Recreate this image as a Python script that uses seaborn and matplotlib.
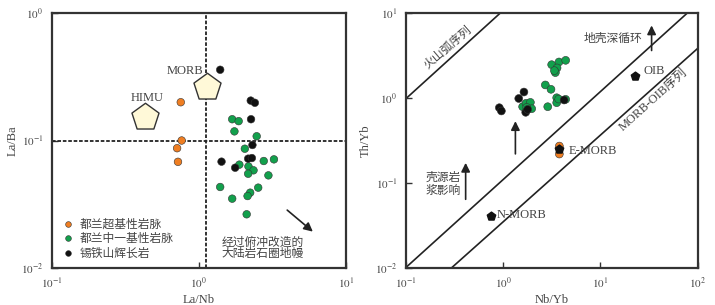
import numpy as np
import pandas as pd
import seaborn as sns
import matplotlib.pyplot as plt
import matplotlib.ticker as mticker

# ---- data ----
groups = ['都兰超基性岩脉', '都兰中一基性岩脉', '锡铁山辉长岩']
colors = ['#ef7e22', '#12a04c', '#111111']

# La/Nb - La/Ba
chao_lanb = [0.755, 0.766, 0.713, 0.723]
chao_laba = [0.200, 0.100, 0.087, 0.068]
zj_lanb = [1.69, 1.87, 1.75, 2.48, 2.06, 2.77, 3.25, 1.89, 2.18, 2.36, 2.17, 2.98,
           1.40, 2.54, 2.24, 2.15, 1.69, 2.12]
zj_laba = [0.147, 0.142, 0.118, 0.108, 0.0862, 0.069, 0.0711, 0.0646, 0.0626, 0.0583,
           0.0548, 0.0532, 0.0431, 0.0426, 0.0389, 0.0366, 0.0349, 0.0263]
xt_lanb = [1.40, 2.26, 2.41, 2.27, 2.32, 2.17, 2.30, 1.43, 1.77]
xt_laba = [0.360, 0.206, 0.198, 0.147, 0.0922, 0.0720, 0.0728, 0.0682, 0.0611]

# Nb/Yb - Th/Yb
chao_nbyb = [3.79, 3.79]
chao_thyb = [0.272, 0.219]
zj_nbyb = [3.16, 3.76, 4.40, 3.59, 3.45, 2.72, 3.11, 3.56, 3.56, 4.40, 2.88, 1.59,
           1.72, 1.91, 1.97, 1.75, 3.73, 3.37]
zj_thyb = [2.48, 2.67, 2.79, 2.27, 2.00, 1.43, 1.27, 1.01, 0.883, 0.967, 0.792, 0.792,
           0.868, 0.891, 0.750, 0.778, 0.975, 2.11]
xt_nbyb = [0.916, 0.962, 1.45, 1.64, 1.71, 4.24, 1.79]
xt_thyb = [0.771, 0.705, 0.99, 1.18, 0.68, 0.95, 0.736]

# end members
em1_names = ['HIMU', 'MORB']
em1_lanb = [0.43, 1.14]
em1_laba = [0.154, 0.265]
em2_names = ['N-MORB', 'E-MORB', 'OIB']
em2_nbyb = [0.76, 3.79, 22.9]
em2_thyb = [0.041, 0.25, 1.84]

# reference lines (Nb/Yb, Th/Yb endpoints)
arc_x, arc_y = [0.1, 0.93], [0.98, 10]
mid_x, mid_y = [0.1, 77.6], [0.01, 10]
morb_x, morb_y = [0.297, 100], [0.01, 3.86]

df1 = pd.DataFrame({
    'x': chao_lanb + zj_lanb + xt_lanb,
    'y': chao_laba + zj_laba + xt_laba,
    'g': [groups[0]] * len(chao_lanb) + [groups[1]] * len(zj_lanb) + [groups[2]] * len(xt_lanb)})
df2 = pd.DataFrame({
    'x': chao_nbyb + zj_nbyb + xt_nbyb,
    'y': chao_thyb + zj_thyb + xt_thyb,
    'g': [groups[0]] * len(chao_nbyb) + [groups[1]] * len(zj_nbyb) + [groups[2]] * len(xt_nbyb)})

sns.set_style('ticks')
plt.rcParams['font.family'] = ['Liberation Serif', 'Noto Sans CJK SC']
plt.rcParams['mathtext.fontset'] = 'stix'
plt.rcParams['axes.unicode_minus'] = False

txt = '#444444'
cn = 8.5
fig = plt.figure(figsize=(7.15, 3.05), dpi=100)
ax1 = fig.add_axes([0.0723, 0.1223, 0.4112, 0.834])
ax2 = fig.add_axes([0.5674, 0.1223, 0.4084, 0.834])
pal = dict(zip(groups, colors))


def fmt(v, pos):
    return r'$10^{%d}$' % int(round(np.log10(v)))


for ax in (ax1, ax2):
    ax.set_xscale('log')
    ax.set_yscale('log')
    for s in ax.spines.values():
        s.set_linewidth(1.6)
        s.set_color('#333333')
    ax.tick_params(which='major', direction='in', length=4, width=1, colors='#333333',
                   labelcolor=txt, labelsize=8, pad=6)
    ax.tick_params(which='minor', length=0)
    ax.xaxis.set_major_formatter(mticker.FuncFormatter(fmt))
    ax.yaxis.set_major_formatter(mticker.FuncFormatter(fmt))

# ---- left panel ----
ax1.set_xlim(0.1, 10)
ax1.set_ylim(0.01, 1)
ax1.set_xticks([0.1, 1, 10])
ax1.set_yticks([0.01, 0.1, 1])
ax1.axvline(1.12, color='#222222', lw=1.3, ls=(0, (2, 1)), zorder=1)
ax1.axhline(0.1, color='#222222', lw=1.3, ls=(0, (2, 1)), zorder=1)
sns.scatterplot(data=df1, x='x', y='y', hue='g', hue_order=groups, palette=pal, s=30,
                edgecolor='#333333', linewidth=0.4, ax=ax1, zorder=3)
ax1.scatter(em1_lanb, em1_laba, marker='p', s=420, facecolor='#fff9d8',
            edgecolor='#333333', linewidth=1, zorder=2)
ax1.text(0.443, 0.217, em1_names[0], ha='center', va='center', fontsize=9, color=txt)
ax1.text(0.807, 0.352, em1_names[1], ha='center', va='center', fontsize=9, color=txt)
ax1.annotate('', xy=(6.18, 0.0186), xytext=(3.87, 0.0293),
             arrowprops=dict(arrowstyle='-|>', color='#222222', lw=1.2, mutation_scale=13))
ax1.text(2.74, 0.0142, '经过俯冲改造的\n大陆岩石圈地幔', ha='center', va='center',
         fontsize=cn, color=txt, linespacing=0.95)
h, l = ax1.get_legend_handles_labels()
ax1.legend(h, l, loc='upper left', bbox_to_anchor=(0.0, 0.21), frameon=False,
           fontsize=cn, handletextpad=0.0, labelspacing=0.2, markerscale=0.75,
           borderaxespad=0, labelcolor=txt)
ax1.set_xlabel('La/Nb', fontsize=9, color=txt, labelpad=2)
ax1.set_ylabel('La/Ba', fontsize=9, color=txt, labelpad=2)

# ---- right panel ----
ax2.set_xlim(0.1, 100)
ax2.set_ylim(0.01, 10)
ax2.set_xticks([0.1, 1, 10, 100])
ax2.set_yticks([0.01, 0.1, 1, 10])
for lx, ly in ((arc_x, arc_y), (mid_x, mid_y), (morb_x, morb_y)):
    ax2.plot(lx, ly, color='#222222', lw=1.2, zorder=1)
sns.scatterplot(data=df2, x='x', y='y', hue='g', hue_order=groups, palette=pal, s=32,
                edgecolor='#333333', linewidth=0.4, ax=ax2, legend=False, zorder=3)
ax2.scatter(em2_nbyb, em2_thyb, marker='p', s=40, color='#111111', zorder=4)
ax2.text(0.861, 0.0418, em2_names[0], ha='left', va='center', fontsize=9, color=txt)
ax2.text(4.69, 0.24, em2_names[1], ha='left', va='center', fontsize=9, color=txt)
ax2.text(27.7, 2.09, em2_names[2], ha='left', va='center', fontsize=9, color=txt)
arrow = dict(arrowstyle='-|>', color='#222222', lw=1.2, mutation_scale=13)
ax2.annotate('', xy=(33.6, 7.76), xytext=(33.6, 3.38), arrowprops=arrow)
ax2.annotate('', xy=(1.34, 0.577), xytext=(1.34, 0.204), arrowprops=arrow)
ax2.annotate('', xy=(0.413, 0.186), xytext=(0.413, 0.0594), arrowprops=arrow)
ax2.text(0.272, 3.95, '火山弧序列', ha='center', va='center', rotation=41,
         fontsize=cn, color=txt)
ax2.text(35, 0.95, 'MORB-OIB序列', ha='center', va='center', rotation=42,
         fontsize=9, color=txt)
ax2.text(13.6, 5.07, '地壳深循环', ha='center', va='center', fontsize=cn, color=txt)
ax2.text(0.244, 0.097, '壳源岩\n浆影响', ha='center', va='center', fontsize=cn,
         color=txt, linespacing=1.15)
ax2.set_xlabel('Nb/Yb', fontsize=9, color=txt, labelpad=2)
ax2.set_ylabel('Th/Yb', fontsize=9, color=txt, labelpad=2)

fig.savefig('out.png', dpi=100)
